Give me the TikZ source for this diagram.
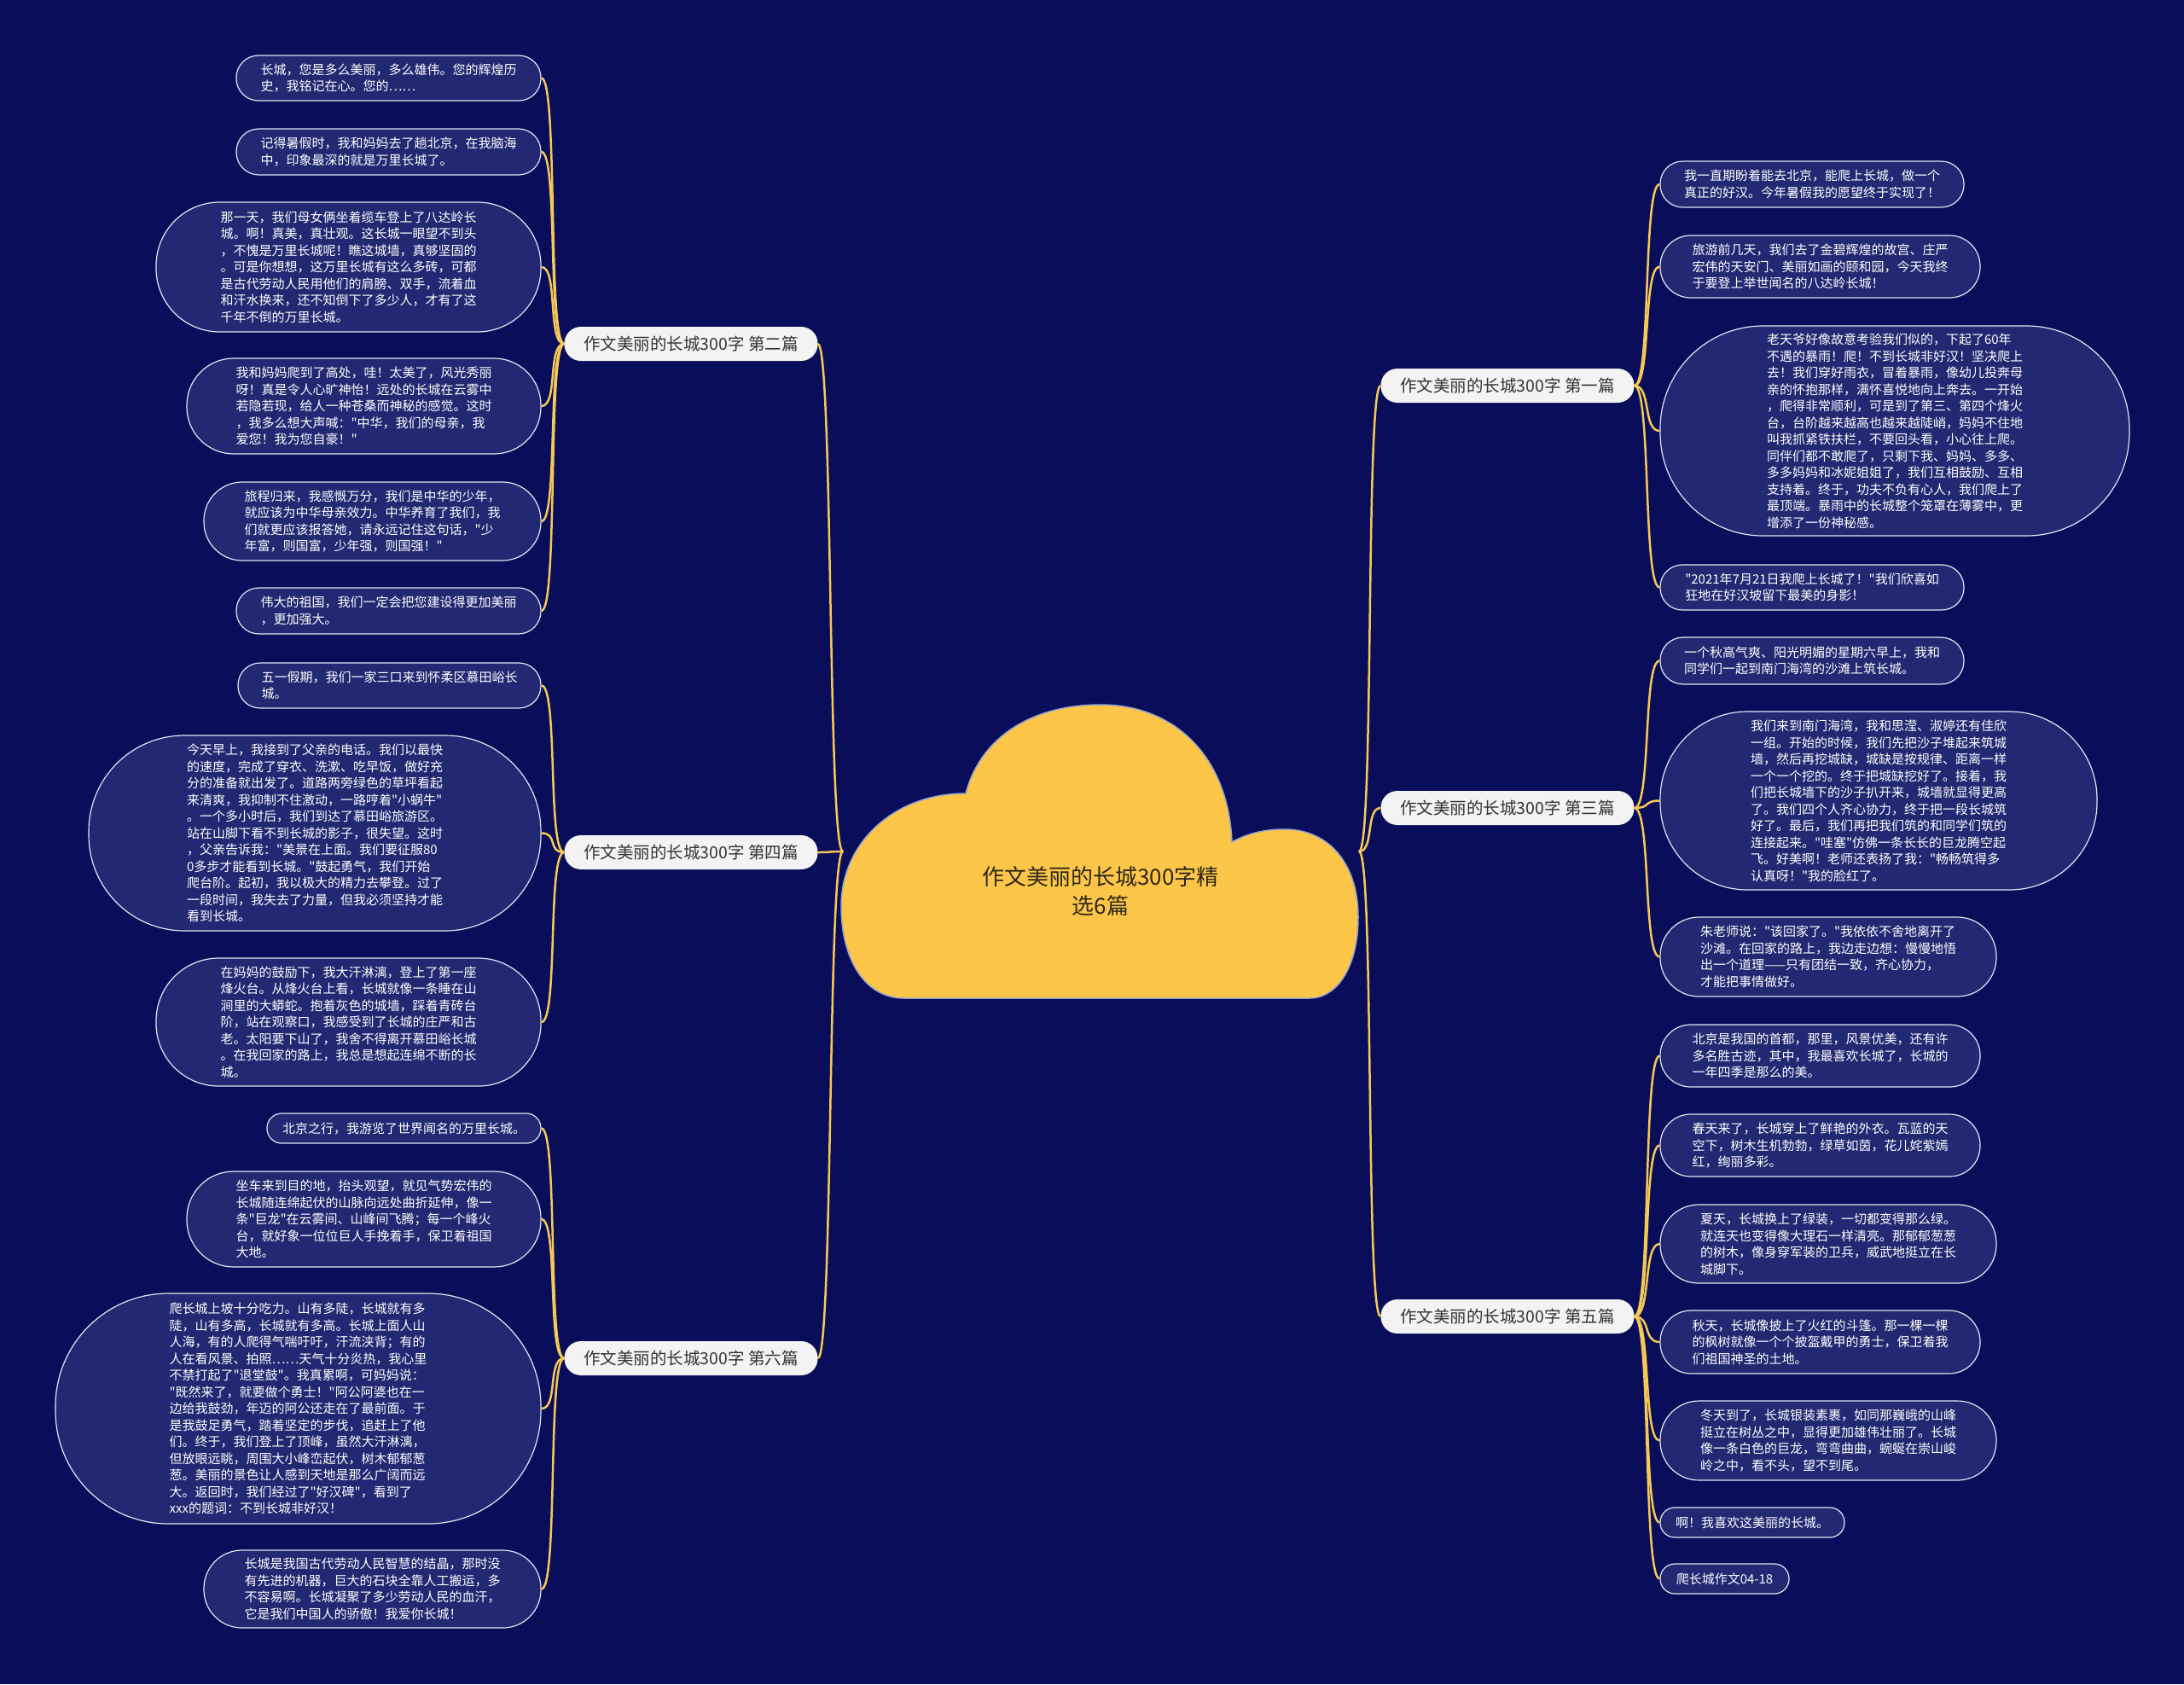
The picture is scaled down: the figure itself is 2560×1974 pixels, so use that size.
\documentclass[tikz,border=0pt]{standalone}
\usepackage{fontspec}
\newfontfamily\cjk{Noto Sans CJK SC}
\definecolor{bg}{RGB}{10,14,90}
\definecolor{leaffill}{RGB}{34,41,114}
\definecolor{leafline}{RGB}{226,229,240}
\definecolor{conncol}{RGB}{246,200,84}
\definecolor{branchfill}{RGB}{243,243,243}
\definecolor{branchtext}{RGB}{51,51,51}
\definecolor{cloudfill}{RGB}{253,198,72}
\definecolor{cloudline}{RGB}{150,165,205}
\definecolor{roottext}{RGB}{45,40,30}
\begin{document}
\begin{tikzpicture}[x=1pt,y=-1pt,
  leaf/.style={draw=leafline, fill=leaffill, line width=1.2pt, text=white,
    font=\cjk\fontsize{15}{19.5}\selectfont, align=left, inner sep=0pt},
  lf/.style 2 args={leaf, minimum width=#1pt, minimum height=#2pt, rounded corners=0.49*#2pt},
  branch/.style={fill=branchfill, text=branchtext, font=\cjk\fontsize{19.5}{22}\selectfont,
    minimum width=297pt, minimum height=40pt, rounded corners=19.5pt, inner sep=0pt},
  conn/.style={draw=conncol, line width=2.5pt},
]
\useasboundingbox (0,0) rectangle (2560,1974);
\fill[bg] (0,0) rectangle (2560,1974);

% central cloud
\filldraw[fill=cloudfill, draw=cloudline, line width=1.5pt]
 (1060,1170) .. controls (1012,1170) and (986,1122) .. (986,1062)
 .. controls (986,988) and (1048,930) .. (1132,930)
 .. controls (1150,862) and (1212,826) .. (1290,826)
 .. controls (1378,826) and (1440,888) .. (1444,987)
 .. controls (1462,977) and (1482,972) .. (1505,972)
 .. controls (1560,972) and (1592,1015) .. (1592,1075)
 .. controls (1592,1132) and (1568,1170) .. (1535,1170)
 -- cycle;
\node[font=\cjk\fontsize{26}{34}\selectfont, text=roottext, align=center] (root) at (1290,1045) {作文美丽的长城300字精\\选6篇};
\coordinate (cl) at (988,998);
\coordinate (cr) at (1593,998);

% branches
\node[branch] (b2) at (810,403) {作文美丽的长城300字 第二篇};
\node[branch] (b4) at (810,999) {作文美丽的长城300字 第四篇};
\node[branch] (b6) at (810,1592) {作文美丽的长城300字 第六篇};
\node[branch] (b1) at (1767,452) {作文美丽的长城300字 第一篇};
\node[branch] (b3) at (1767,947) {作文美丽的长城300字 第三篇};
\node[branch] (b5) at (1767,1543) {作文美丽的长城300字 第五篇};

% left leaves, branch 2
\node[lf={357}{53}] (l2a) at (455.5,91.5) {长城，您是多么美丽，多么雄伟。您的辉煌历\\史，我铭记在心。您的……};
\node[lf={357}{54}] (l2b) at (455.5,178) {记得暑假时，我和妈妈去了趟北京，在我脑海\\中，印象最深的就是万里长城了。};
\node[lf={451}{152}] (l2c) at (408.5,313) {那一天，我们母女俩坐着缆车登上了八达岭长\\城。啊！真美，真壮观。这长城一眼望不到头\\，不愧是万里长城呢！瞧这城墙，真够坚固的\\。可是你想想，这万里长城有这么多砖，可都\\是古代劳动人民用他们的肩膀、双手，流着血\\和汗水换来，还不知倒下了多少人，才有了这\\千年不倒的万里长城。};
\node[lf={415}{112}] (l2d) at (426.5,476) {我和妈妈爬到了高处，哇！太美了，风光秀丽\\呀！真是令人心旷神怡！远处的长城在云雾中\\若隐若现，给人一种苍桑而神秘的感觉。这时\\，我多么想大声喊："中华，我们的母亲，我\\爱您！我为您自豪！"};
\node[lf={395}{92}] (l2e) at (436.5,611) {旅程归来，我感慨万分，我们是中华的少年，\\就应该为中华母亲效力。中华养育了我们，我\\们就更应该报答她，请永远记住这句话，"少\\年富，则国富，少年强，则国强！"};
\node[lf={357}{54}] (l2f) at (455.5,716) {伟大的祖国，我们一定会把您建设得更加美丽\\，更加强大。};

% left leaves, branch 4
\node[lf={355}{53}] (l4a) at (456.5,803.5) {五一假期，我们一家三口来到怀柔区慕田峪长\\城。};
\node[lf={530}{229}] (l4b) at (369,976.5) {今天早上，我接到了父亲的电话。我们以最快\\的速度，完成了穿衣、洗漱、吃早饭，做好充\\分的准备就出发了。道路两旁绿色的草坪看起\\来清爽，我抑制不住激动，一路哼着"小蜗牛"\\。一个多小时后，我们到达了慕田峪旅游区。\\站在山脚下看不到长城的影子，很失望。这时\\，父亲告诉我："美景在上面。我们要征服80\\0多步才能看到长城。"鼓起勇气，我们开始\\爬台阶。起初，我以极大的精力去攀登。过了\\一段时间，我失去了力量，但我必须坚持才能\\看到长城。};
\node[lf={451}{150}] (l4c) at (408.5,1198) {在妈妈的鼓励下，我大汗淋漓，登上了第一座\\烽火台。从烽火台上看，长城就像一条睡在山\\涧里的大蟒蛇。抱着灰色的城墙，踩着青砖台\\阶，站在观察口，我感受到了长城的庄严和古\\老。太阳要下山了，我舍不得离开慕田峪长城\\。在我回家的路上，我总是想起连绵不断的长\\城。};

% left leaves, branch 6
\node[lf={321}{35}] (l6a) at (473.5,1322.5) {北京之行，我游览了世界闻名的万里长城。};
\node[lf={415}{112}] (l6b) at (426.5,1429) {坐车来到目的地，抬头观望，就见气势宏伟的\\长城随连绵起伏的山脉向远处曲折延伸，像一\\条"巨龙"在云雾间、山峰间飞腾；每一个峰火\\台，就好象一位位巨人手挽着手，保卫着祖国\\大地。};
\node[lf={569}{270}] (l6c) at (349.5,1651) {爬长城上坡十分吃力。山有多陡，长城就有多\\陡，山有多高，长城就有多高。长城上面人山\\人海，有的人爬得气喘吁吁，汗流浃背；有的\\人在看风景、拍照……天气十分炎热，我心里\\不禁打起了"退堂鼓"。我真累啊，可妈妈说：\\"既然来了，就要做个勇士！"阿公阿婆也在一\\边给我鼓劲，年迈的阿公还走在了最前面。于\\是我鼓足勇气，踏着坚定的步伐，追赶上了他\\们。终于，我们登上了顶峰，虽然大汗淋漓，\\但放眼远眺，周围大小峰峦起伏，树木郁郁葱\\葱。美丽的景色让人感到天地是那么广阔而远\\大。返回时，我们经过了"好汉碑"，看到了\\xxx的题词：不到长城非好汉！};
\node[lf={395}{91}] (l6d) at (436.5,1862.5) {长城是我国古代劳动人民智慧的结晶，那时没\\有先进的机器，巨大的石块全靠人工搬运，多\\不容易啊。长城凝聚了多少劳动人民的血汗，\\它是我们中国人的骄傲！我爱你长城！};

% right leaves, branch 1
\node[lf={356}{54}] (r1a) at (2124,216) {我一直期盼着能去北京，能爬上长城，做一个\\真正的好汉。今年暑假我的愿望终于实现了！};
\node[lf={375}{73}] (r1b) at (2133.5,312.5) {旅游前几天，我们去了金碧辉煌的故宫、庄严\\宏伟的天安门、美丽如画的颐和园，今天我终\\于要登上举世闻名的八达岭长城！};
\node[lf={550}{246}] (r1c) at (2221,505) {老天爷好像故意考验我们似的，下起了60年\\不遇的暴雨！爬！不到长城非好汉！坚决爬上\\去！我们穿好雨衣，冒着暴雨，像幼儿投奔母\\亲的怀抱那样，满怀喜悦地向上奔去。一开始\\，爬得非常顺利，可是到了第三、第四个烽火\\台，台阶越来越高也越来越陡峭，妈妈不住地\\叫我抓紧铁扶栏，不要回头看，小心往上爬。\\同伴们都不敢爬了，只剩下我、妈妈、多多、\\多多妈妈和冰妮姐姐了，我们互相鼓励、互相\\支持着。终于，功夫不负有心人，我们爬上了\\最顶端。暴雨中的长城整个笼罩在薄雾中，更\\增添了一份神秘感。};
\node[lf={356}{53}] (r1d) at (2124,688.5) {"2021年7月21日我爬上长城了！"我们欣喜如\\狂地在好汉坡留下最美的身影！};

% right leaves, branch 3
\node[lf={356}{55}] (r3a) at (2124,774.5) {一个秋高气爽、阳光明媚的星期六早上，我和\\同学们一起到南门海湾的沙滩上筑长城。};
\node[lf={512}{209}] (r3b) at (2202,938.5) {我们来到南门海湾，我和思滢、淑婷还有佳欣\\一组。开始的时候，我们先把沙子堆起来筑城\\墙，然后再挖城缺，城缺是按规律、距离一样\\一个一个挖的。终于把城缺挖好了。接着，我\\们把长城墙下的沙子扒开来，城墙就显得更高\\了。我们四个人齐心协力，终于把一段长城筑\\好了。最后，我们再把我们筑的和同学们筑的\\连接起来。"哇塞"仿佛一条长长的巨龙腾空起\\飞。好美啊！老师还表扬了我："畅畅筑得多\\认真呀！"我的脸红了。};
\node[lf={394}{93}] (r3c) at (2143,1121.5) {朱老师说："该回家了。"我依依不舍地离开了\\沙滩。在回家的路上，我边走边想：慢慢地悟\\出一个道理——只有团结一致，齐心协力，\\才能把事情做好。};

% right leaves, branch 5
\node[lf={375}{73}] (r5a) at (2133.5,1237.5) {北京是我国的首都，那里，风景优美，还有许\\多名胜古迹，其中，我最喜欢长城了，长城的\\一年四季是那么的美。};
\node[lf={375}{73}] (r5b) at (2133.5,1342.5) {春天来了，长城穿上了鲜艳的外衣。瓦蓝的天\\空下，树木生机勃勃，绿草如茵，花儿姹紫嫣\\红，绚丽多彩。};
\node[lf={394}{92}] (r5c) at (2143,1458) {夏天，长城换上了绿装，一切都变得那么绿。\\就连天也变得像大理石一样清亮。那郁郁葱葱\\的树木，像身穿军装的卫兵，威武地挺立在长\\城脚下。};
\node[lf={375}{74}] (r5d) at (2133.5,1573) {秋天，长城像披上了火红的斗篷。那一棵一棵\\的枫树就像一个个披盔戴甲的勇士，保卫着我\\们祖国神圣的土地。};
\node[lf={394}{93}] (r5e) at (2143,1688.5) {冬天到了，长城银装素裹，如同那巍峨的山峰\\挺立在树丛之中，显得更加雄伟壮丽了。长城\\像一条白色的巨龙，弯弯曲曲，蜿蜒在崇山峻\\岭之中，看不头，望不到尾。};
\node[lf={216}{35}] (r5f) at (2054,1784.5) {啊！我喜欢这美丽的长城。};
\node[lf={151}{35}] (r5g) at (2021.5,1850.5) {爬长城作文04-18};

% connectors: root to branches
\foreach \b in {b2,b4,b6}
  \draw[conn] (cl) .. controls +(-18,0) and +(18,0) .. (\b.east);
\foreach \b in {b1,b3,b5}
  \draw[conn] (cr) .. controls +(18,0) and +(-18,0) .. (\b.west);

% connectors: branches to leaves
\foreach \l in {l2a,l2b,l2c,l2d,l2e,l2f}
  \draw[conn] (b2.west) .. controls +(-20,0) and +(20,0) .. (\l.east);
\foreach \l in {l4a,l4b,l4c}
  \draw[conn] (b4.west) .. controls +(-20,0) and +(20,0) .. (\l.east);
\foreach \l in {l6a,l6b,l6c,l6d}
  \draw[conn] (b6.west) .. controls +(-20,0) and +(20,0) .. (\l.east);
\foreach \l in {r1a,r1b,r1c,r1d}
  \draw[conn] (b1.east) .. controls +(20,0) and +(-20,0) .. (\l.west);
\foreach \l in {r3a,r3b,r3c}
  \draw[conn] (b3.east) .. controls +(20,0) and +(-20,0) .. (\l.west);
\foreach \l in {r5a,r5b,r5c,r5d,r5e,r5f,r5g}
  \draw[conn] (b5.east) .. controls +(20,0) and +(-20,0) .. (\l.west);
\end{tikzpicture}
\end{document}
